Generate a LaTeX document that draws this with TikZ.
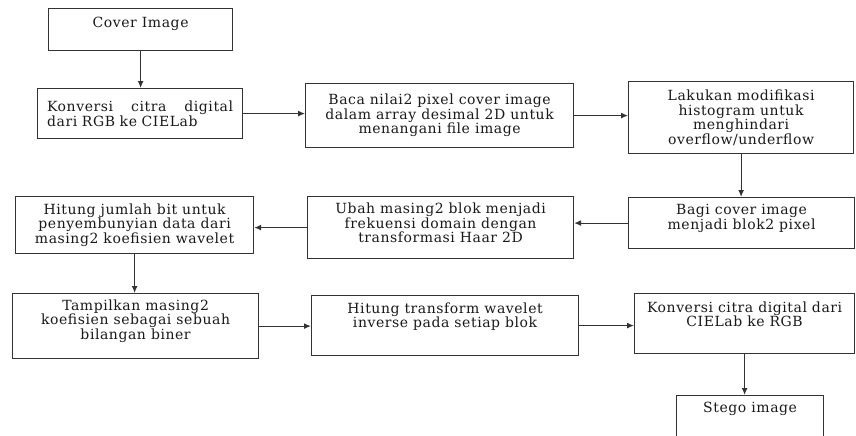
\documentclass[tikz,border=0pt]{standalone}
\usepackage{fontspec}
\setmainfont{DejaVu Serif}[LetterSpace=4]
\usepackage{xcolor}
\usetikzlibrary{arrows.meta}

\tikzset{
	blok/.style={draw=black!80, line width=1.2pt, anchor=north west, align=center, inner sep=2pt,
		font=\fontsize{14}{14.5}\selectfont, text=black!90},
	panah/.style={draw=black!80, line width=1.2pt, -{Latex[length=7pt,width=6pt]}}
}

\begin{document}
\begin{tikzpicture}[x=1pt,y=-1pt]
				\useasboundingbox (0,0) rectangle (856,436);
	
				% baris atas
				\node[blok, minimum width=184pt, minimum height=42pt, text depth=15pt] (cover) at (48,8) {Cover Image};
				\node[blok, minimum width=205pt, minimum height=50pt, text width=186pt, align=left] (konv1) at (37,88) {Konversi\hfill citra\hfill digital\\dari RGB ke CIELab};
				\node[blok, minimum width=268pt, minimum height=64pt] (baca) at (305,83) {Baca nilai2 pixel cover image\\dalam array desimal 2D untuk\\menangani file image};
				\node[blok, minimum width=225pt, minimum height=72pt] (histo) at (628,81) {Lakukan modifikasi\\histogram untuk\\menghindari\\overflow/underflow};
	
				% baris tengah
				\node[blok, minimum width=226pt, minimum height=51pt, text depth=13pt] (bagi) at (628,197) {Bagi cover image\\menjadi blok2 pixel};
				\node[blok, minimum width=266pt, minimum height=62pt, text depth=9pt] (haar) at (307,196) {Ubah masing2 blok menjadi\\frekuensi domain dengan\\transformasi Haar 2D};
				\node[blok, minimum width=238pt, minimum height=57pt] (bit) at (15,196) {Hitung jumlah bit untuk\\penyembunyian data dari\\masing2 koefisien wavelet};
	
				% baris bawah
				\node[blok, minimum width=246pt, minimum height=65pt, text depth=13pt] (biner) at (12,293) {Tampilkan masing2\\koefisien sebagai sebuah\\bilangan biner};
				\node[blok, minimum width=267pt, minimum height=60pt, text depth=21pt] (invers) at (311,295) {Hitung transform wavelet\\inverse pada setiap blok};
				\node[blok, minimum width=220pt, minimum height=60pt, text depth=19pt] (konv2) at (634,293) {Konversi citra digital  dari\\CIELab ke RGB};
				\node[blok, minimum width=147pt, minimum height=50pt, text depth=27pt] (stego) at (676,395) {Stego image};
	
				% panah
				\draw[panah] (cover.south) -- (cover.south |- konv1.north);
				\draw[panah] (konv1.east) -- (konv1.east -| baca.west);
				\draw[panah] (baca.east) -- (baca.east -| histo.west);
				\draw[panah] (histo.south) -- (histo.south |- bagi.north);
				\draw[panah] (bagi.west) -- (bagi.west -| haar.east);
				\draw[panah] (haar.west) -- (haar.west -| bit.east);
				\draw[panah] (bit.south) -- (bit.south |- biner.north);
				\draw[panah] (biner.east) -- (biner.east -| invers.west);
				\draw[panah] (invers.east) -- (invers.east -| konv2.west);
				\draw[panah] (konv2.south) -- (konv2.south |- stego.north);
			\end{tikzpicture}
\end{document}
